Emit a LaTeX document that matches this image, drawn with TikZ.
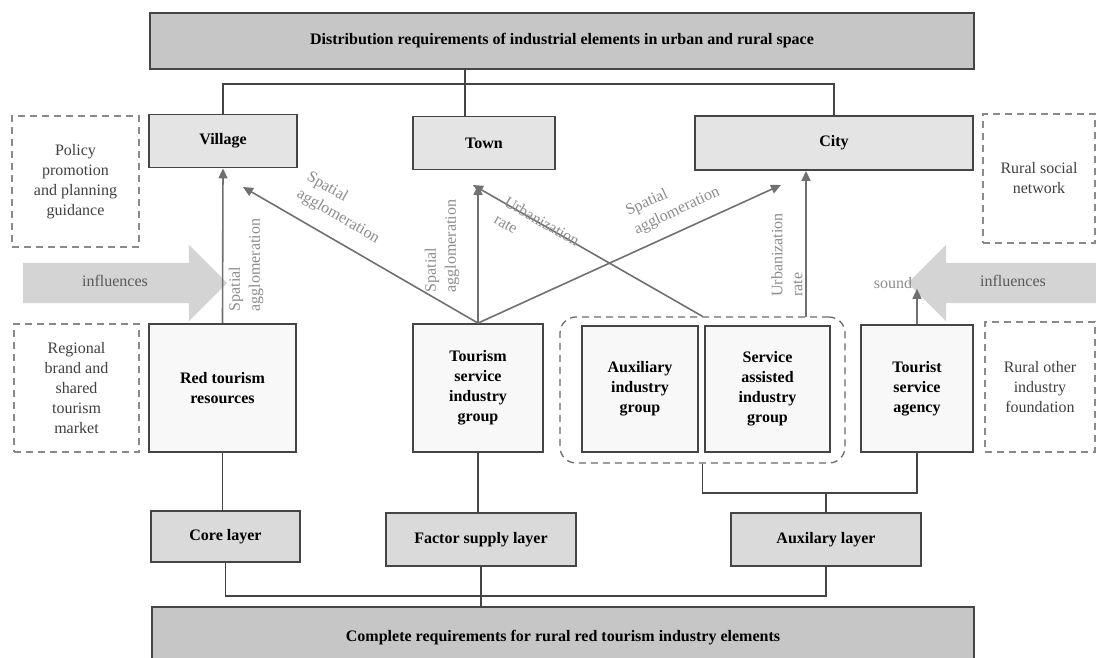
\documentclass[tikz,border=0pt]{standalone}
\usepackage{fontspec}
\setmainfont{Liberation Serif}
\usetikzlibrary{arrows.meta,shapes.arrows}
\definecolor{boxline}{HTML}{454545}
\definecolor{darkfill}{HTML}{C6C6C6}
\definecolor{lightfill}{HTML}{E4E4E4}
\definecolor{layerfill}{HTML}{DADADA}
\definecolor{paperfill}{HTML}{F8F8F8}
\definecolor{arrowgray}{HTML}{707070}
\definecolor{labelgray}{HTML}{8C8C8C}
\definecolor{dashgray}{HTML}{8A8A8A}
\definecolor{bandfill}{HTML}{D4D4D4}
\begin{document}
\begin{tikzpicture}[x=1pt,y=-1pt,
    every node/.style={font=\fontsize{16}{20}\selectfont, align=center, inner sep=0pt},
    box/.style={draw=boxline, line width=1.8pt, font=\fontsize{16}{20}\selectfont\bfseries},
    dbox/.style={draw=dashgray, line width=1.3pt, dash pattern=on 7pt off 5pt, text=black!75},
    link/.style={draw=boxline, line width=1.1pt},
    arr/.style={draw=arrowgray, line width=1.6pt, -{Triangle[length=10pt,width=9pt]}},
    lbl/.style={text=labelgray, align=left},
    band/.style={single arrow, fill=bandfill, single arrow head extend=18pt,
      inner ysep=14pt, text height=9pt, text depth=3pt, text=black!65}]
  \useasboundingbox (0,0) rectangle (1096,657);

  \node[box, fill=darkfill, minimum width=824pt, minimum height=56pt] (dist) at (562,41)
    {Distribution requirements of industrial elements in urban and rural space};

  \node[box, fill=lightfill, minimum width=148pt, minimum height=53pt] (village) at (223,141) {Village};
  \node[box, fill=lightfill, minimum width=142pt, minimum height=53pt] (town) at (484,143) {Town};
  \node[box, fill=lightfill, minimum width=278pt, minimum height=54pt] (city) at (834,143) {City};

  \node[box, fill=paperfill, minimum width=147pt, minimum height=128pt] (red) at (222.5,388) {Red tourism\\resources};
  \node[box, fill=paperfill, minimum width=130pt, minimum height=128pt] (tsig) at (478,388) {Tourism\\service\\industry\\group};
  \node[box, fill=paperfill, minimum width=116pt, minimum height=126pt] (aux) at (640,389) {Auxiliary\\industry\\group};
  \node[box, fill=paperfill, minimum width=125pt, minimum height=126pt] (sai) at (767.5,389) {Service\\assisted\\industry\\group};
  \node[box, fill=paperfill, minimum width=112pt, minimum height=127pt] (tsa) at (917,388.5) {Tourist\\service\\agency};
  \node[draw=boxline!80, line width=1.3pt, dash pattern=on 7pt off 5pt, rounded corners=16pt,
    minimum width=285pt, minimum height=146pt] (grp) at (702.5,390) {};

  \node[dbox, minimum width=127pt, minimum height=131pt] (policy) at (75.5,181.5) {Policy\\promotion\\and planning\\guidance};
  \node[dbox, minimum width=125pt, minimum height=128pt] (brand) at (76.5,388) {Regional\\brand and\\shared\\tourism\\market};
  \node[dbox, minimum width=112pt, minimum height=129pt] (social) at (1039,178.5) {Rural social\\network};
  \node[dbox, minimum width=110pt, minimum height=130pt] (other) at (1040,387) {Rural other\\industry\\foundation};

  \node[box, fill=layerfill, minimum width=149pt, minimum height=51pt] (core) at (225.5,536.5) {Core layer};
  \node[box, fill=layerfill, minimum width=190pt, minimum height=53pt] (factor) at (481,539.5) {Factor supply layer};
  \node[box, fill=layerfill, minimum width=190pt, minimum height=53pt] (auxl) at (826,539.5) {Auxilary layer};
  \node[box, fill=darkfill, minimum width=822pt, minimum height=62pt] (complete) at (563,638)
    {Complete requirements for rural red tourism industry elements};

  \node[band, minimum height=204pt] (inl) at (115,283) {influences};
  \node[band, shape border rotate=180, minimum height=190pt] (inr) at (1013,283) {influences};
  \node[text=labelgray] (sound) at (893,283) {sound};

  \coordinate (jt) at (465,84);
  \coordinate (jb) at (826,493);
  \coordinate (jc) at (481,596);
  \draw[link] (dist.south -| jt) -- (town.north -| jt);
  \draw[link] (village.north) |- (jt) -| (city.north);
  \draw[link] (red.south) -- (red.south |- core.north);
  \draw[link] (tsig.south) -- (tsig.south |- factor.north);
  \draw[link] (grp.south) |- (jb) -| (tsa.south);
  \draw[link] (jb) -- (auxl.north);
  \draw[link] (core.south) |- (jc) -| (auxl.south);
  \draw[link] (factor.south) -- (factor.south |- complete.north);

  \coordinate (vtip) at (243,187);
  \coordinate (ttip) at (473,185);
  \coordinate (ctip) at (781,185);
  \coordinate (uq) at (806,317);
  \begin{scope}[arr]
    \draw (red.north) -- (village.south);
    \draw (tsig.north) -- (vtip);
    \draw (tsig.north) -- (tsig.north |- ttip);
    \draw (tsig.north) -- (ctip);
    \draw (grp.north) -- (ttip);
    \draw (uq) -- (uq |- city.south);
    \draw (tsa.north) -- (tsa.north |- sound.south);
  \end{scope}

  \node[lbl, rotate=90] (l1) at (246,265) {Spatial\\agglomeration};
  \node[lbl, rotate=-30] (l2) at (343,208) {Spatial\\agglomeration};
  \node[lbl, rotate=90] (l3) at (442,246) {Spatial\\agglomeration};
  \node[lbl, rotate=25] (l4) at (673,202) {Spatial\\agglomeration};
  \node[lbl, rotate=-30] (l5) at (537,230) {Urbanization\\rate};
  \node[lbl, rotate=90] (l6) at (787,255) {Urbanization\\rate};
\end{tikzpicture}
\end{document}
